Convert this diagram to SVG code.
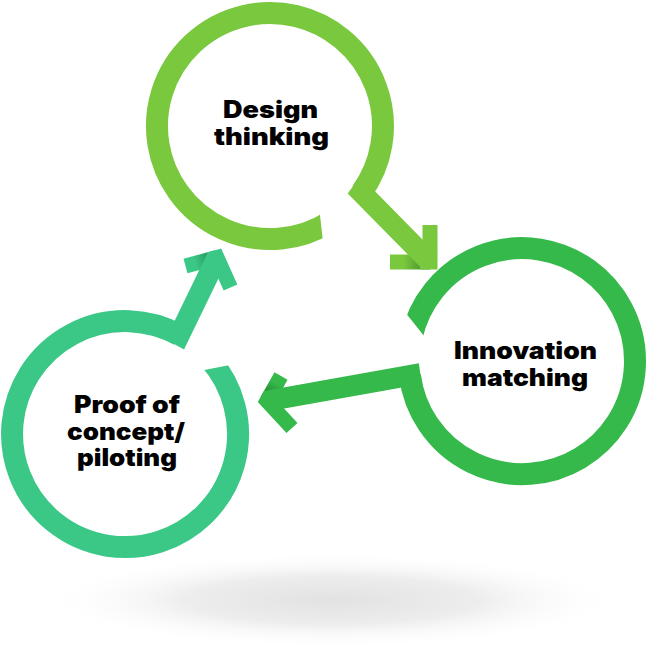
<svg xmlns="http://www.w3.org/2000/svg" width="647" height="650" viewBox="0 0 647 650">
<defs>
<style>
.ring{fill:none;stroke-width:22;stroke-linecap:butt}
.shaft{fill:none;stroke-width:21;stroke-linejoin:miter;stroke-linecap:butt;stroke-miterlimit:10}
.head{fill:none;stroke-width:15;stroke-linejoin:miter;stroke-linecap:butt;stroke-miterlimit:10}
.lbl{font-family:Inter,"Liberation Sans",Arial,sans-serif;font-weight:900;font-size:24px;fill:#000}
.g1{stroke:#79C83D}.g2{stroke:#35B94A}.g3{stroke:#3BC887}
</style>
<radialGradient id="shadow" cx="0.5" cy="0.5" r="0.5">
<stop offset="0" stop-color="#e2e2e2"/>
<stop offset="0.5" stop-color="#ededed"/>
<stop offset="1" stop-color="#ffffff" stop-opacity="0"/>
</radialGradient>
<linearGradient id="shadeD" gradientUnits="userSpaceOnUse" x1="390" y1="262" x2="430" y2="262">
<stop offset="0" stop-color="#79C83D"/><stop offset="0.35" stop-color="#79C83D"/><stop offset="0.95" stop-color="#3F8A2E"/>
</linearGradient>
<linearGradient id="shadeI" gradientUnits="userSpaceOnUse" x1="281" y1="376" x2="267" y2="401">
<stop offset="0" stop-color="#35B94A"/><stop offset="0.3" stop-color="#35B94A"/><stop offset="0.9" stop-color="#237A30"/>
</linearGradient>
<linearGradient id="shadeP" gradientUnits="userSpaceOnUse" x1="185.5" y1="266" x2="217" y2="257.5">
<stop offset="0" stop-color="#3BC887"/><stop offset="0.3" stop-color="#3BC887"/><stop offset="0.9" stop-color="#24895A"/>
</linearGradient>
<clipPath id="cutD"><path clip-rule="evenodd" d="M0,0H647V650H0Z M319.1,207 L323.6,247.3 L345,247.3 L345,207Z"/></clipPath>
<clipPath id="cutI"><path clip-rule="evenodd" d="M0,0H647V650H0Z M401.7,308.1 L428.3,341.2 L428.3,352 L395,352 L395,308.1Z"/></clipPath>
<clipPath id="cutP"><path clip-rule="evenodd" d="M0,0H647V650H0Z M196.5,371.5 L237.8,363.5 L237.8,345 L196.5,345Z"/></clipPath>
</defs>
<rect width="647" height="650" fill="#ffffff"/>
<ellipse cx="332" cy="600" rx="290" ry="48" fill="url(#shadow)"/>

<g id="connectors">
<g id="arrow-design-to-innovation">
<line class="head" x1="390" y1="262" x2="430" y2="262" stroke="url(#shadeD)"/>
<path class="shaft g1" d="M364.9,187.5 L361.4,192.4 L430,262"/>
<polyline class="head g1" points="420,262 430,262 430,225"/>
</g>
<g id="arrow-innovation-to-proof">
<line class="head" x1="281" y1="376" x2="267" y2="401" stroke="url(#shadeI)"/>
<path class="shaft g2" d="M410.7,381.4 L409.9,375.4 L267,401"/>
<polyline class="head g2" points="270.9,394 267,401 292,428"/>
</g>
<g id="arrow-proof-to-design">
<line class="head" x1="185.5" y1="266" x2="217" y2="257.5" stroke="url(#shadeP)"/>
<path class="shaft g3" d="M174.1,332.1 L179.4,335 L217,257.5"/>
<polyline class="head g3" points="209.3,259.7 217,257.5 230.5,287.5"/>
</g>
</g>

<g id="node-design">
<path class="ring g1" clip-path="url(#cutD)" d="M329.9,221.8 A113,113 0 1 1 361.4,192.4"/>
<text class="lbl"><tspan x="223" y="118" textLength="95" lengthAdjust="spacingAndGlyphs">Design</tspan><tspan x="214" y="145" textLength="115" lengthAdjust="spacingAndGlyphs">thinking</tspan></text>
</g>

<g id="node-innovation">
<path class="ring g2" clip-path="url(#cutI)" d="M411.5,337.5 A113,113 0 1 1 409.9,375.4"/>
<text class="lbl"><tspan x="454" y="359" textLength="143" lengthAdjust="spacingAndGlyphs">Innovation</tspan><tspan x="462" y="385.5" textLength="126" lengthAdjust="spacingAndGlyphs">matching</tspan></text>
</g>

<g id="node-proof">
<path class="ring g3" clip-path="url(#cutP)" d="M210.3,359.9 A113,113 0 1 1 179.4,335"/>
<text class="lbl"><tspan x="74" y="413" textLength="106" lengthAdjust="spacingAndGlyphs">Proof of</tspan><tspan x="67" y="439.5" textLength="118" lengthAdjust="spacingAndGlyphs">concept/</tspan><tspan x="77" y="466" textLength="100" lengthAdjust="spacingAndGlyphs">piloting</tspan></text>
</g>
</svg>
